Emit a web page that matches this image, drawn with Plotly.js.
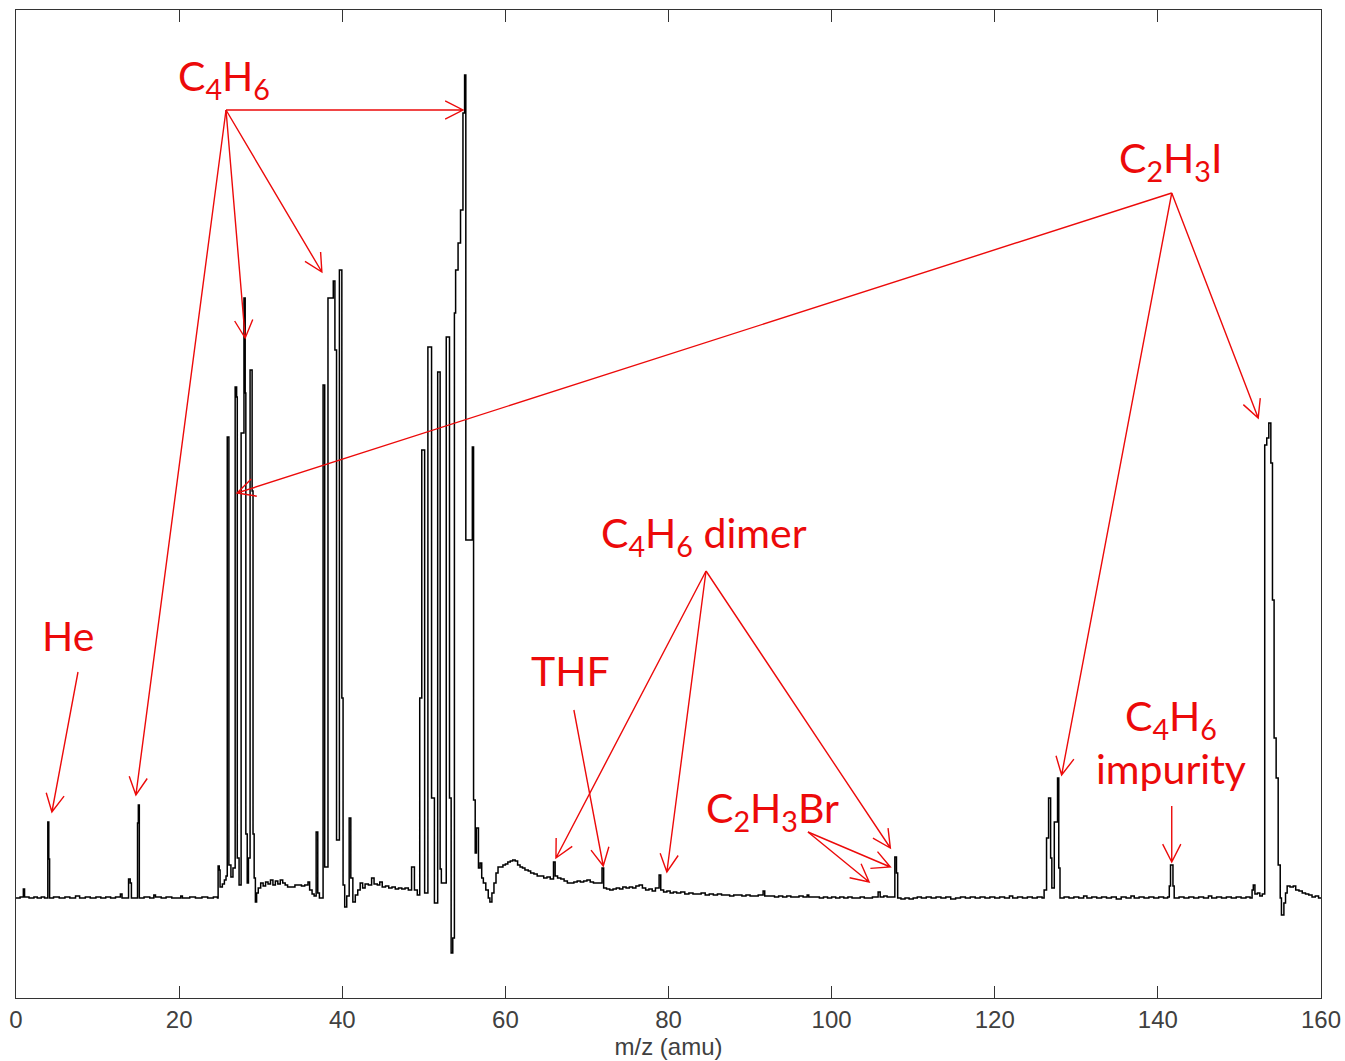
<!DOCTYPE html>
<html>
<head>
<meta charset="utf-8">
<script src="https://cdn.plot.ly/plotly-3.0.1.min.js"></script>
<style>
  html, body { margin: 0; padding: 0; background: #ffffff; }
  #chart { width: 1345px; height: 1061px; }
</style>
</head>
<body>
<div id="chart"></div>
<script>
// Mass spectrum trace, ion signal in arbitrary units (baseline = 0).
// Each point gives the signal level starting at that m/z (step trace).

// m/z 0 - 24.7 : He, CH3 fragments
const mzLow = [0, 0.5, 0.9, 1.05, 1.6, 2.2, 2.6, 3.1, 3.5, 3.9, 4.02, 4.12, 4.6, 5.3, 6.0, 6.6, 7.3, 7.8,
  8.5, 9.1, 9.8, 10.4, 11.0, 11.6, 12.2, 12.8, 13.0, 13.8, 14.0, 14.15, 14.9, 15.0, 15.12, 15.7, 16.4,
  16.9, 17.1, 17.8, 18.4, 19.1, 20.2, 20.4, 21.3, 22.0, 22.8, 23.5, 24.2, 24.7];
const sigLow = [0, 1, 9, 1, 0, 1, 0, 1, 0, 76, 39, 0, 1, 0, 1, 0, 2, 0,
  1, 0, 1, 0, 1, 0, 1, 4, 0, 19, 15, 0, 75, 93, 0, 1, 0,
  3, 1, 0, 1, 0, 2, 0, 1, 0, 1, 0, 1, 0];

// m/z 24.8 - 42.8 : C2 and C3 fragment groups
const mzC2C3 = [24.78, 24.92, 25.02, 25.3, 25.55, 25.75, 25.9, 26.1, 26.35, 26.6, 26.87, 27.05, 27.13,
  27.35, 27.6, 27.95, 28.1, 28.18, 28.35, 28.5, 28.7, 28.95, 29.06, 29.2, 29.35, 29.5, 29.7, 30.0,
  30.3, 30.6, 30.9, 31.2, 31.5, 31.8, 32.1, 32.4, 32.7, 33.0, 33.3, 33.7, 34.2, 34.6, 35.0, 35.4,
  35.8, 36.0, 36.3, 36.55, 36.8, 37.0, 37.2, 37.65, 37.85, 38.25, 38.5, 38.9, 39.1, 39.3, 39.65,
  39.95, 40.1, 40.3, 40.55, 40.85, 41.05, 41.3, 41.6, 41.9, 42.2, 42.5, 42.8];
const sigC2C3 = [32, 28, 11, 14, 18, 22, 461, 33, 21, 30, 511, 501, 40,
  13, 465, 600, 505, 64, 15, 40, 528, 407, 64, 20, -4, 5, 10, 15,
  12, 16, 14, 18, 13, 17, 14, 18, 15, 13, 11, 11, 13, 13, 12, 13,
  16, 8, 4, 2, 66, 5, 0, 513, 31, 600, 600, 617, 548, 58, 628,
  200, 13, -9, 2, 80, 20, -4, 3, 8, 15, 10, 14];

// m/z 43.2 - 62.1 : C4 fragment group and parent C4H6
const mzC4 = [43.2, 43.6, 43.9, 44.3, 44.6, 44.9, 45.3, 45.7, 46.1, 46.5, 46.9, 47.3, 47.7, 48.1,
  48.5, 48.85, 49.2, 49.5, 49.75, 50.1, 50.5, 50.95, 51.3, 51.7, 52.0, 52.15, 52.75, 53.15, 53.35,
  53.55, 53.75, 53.9, 54.2, 54.5, 54.8, 55.0, 55.15, 55.95, 56.1, 56.3, 56.45, 56.7, 56.9, 57.1,
  57.3, 57.6, 57.9, 58.1, 58.35, 58.6, 58.85, 59.1, 59.4, 59.7, 60.0, 60.3, 60.6, 60.9, 61.2,
  61.5, 61.8, 62.1];
const sigC4 = [13, 20, 14, 13, 16, 11, 12, 10, 11, 9, 10, 9, 10, 8,
  31, 8, 3, 200, 448, 5, 551, 100, -5, 526, 29, 15, 561, 100, -55,
  -40, 585, 628, 655, 688, 785, 823, 358, 451, 98, 45, 70, 30, 35, 20,
  15, 8, 0, -4, 5, 15, 25, 31, 31, 33, 34, 36, 37, 38, 37,
  33, 31, 30];

// m/z 62.4 - 110 : THF, dimer and C2H3Br region
const mzMid = [62.4, 62.8, 63.1, 63.5, 63.9, 64.3, 64.7, 65.1, 65.5, 65.9, 66.1, 66.4, 66.8, 67.2,
  67.6, 68.0, 68.4, 68.8, 69.2, 69.6, 70.0, 70.4, 70.8, 71.2, 71.6, 71.85, 72.05, 72.4, 72.8, 73.2,
  73.6, 74.0, 74.4, 74.8, 75.2, 75.6, 76.0, 76.4, 76.8, 77.2, 77.6, 78.0, 78.4, 78.85, 79.05, 79.4,
  79.8, 80.2, 80.6, 81.0, 81.5, 82.0, 82.5, 83.0, 83.5, 84.0, 84.5, 85.0, 85.5, 86.0, 86.5, 87.0,
  87.5, 88.0, 88.5, 89.0, 89.5, 90.0, 90.5, 91.0, 91.6, 91.8, 92.5, 93.0, 93.5, 94.0, 94.5, 95.0,
  95.5, 96.0, 96.5, 97.0, 97.2, 98.0, 98.5, 99.0, 99.5, 100.0, 100.5, 101.0, 101.5, 102.0, 102.5,
  103.0, 103.5, 104.0, 104.5, 105.0, 105.7, 105.95, 106.4, 106.8, 107.3, 107.75, 107.95, 108.1,
  108.5, 109.0, 109.5, 110.0];
const sigMid = [28, 27, 25, 24, 22, 22, 20, 21, 19, 36, 22, 20, 19, 17,
  15, 15, 16, 17, 16, 17, 18, 16, 15, 15, 15, 30, 10, 9, 8, 9,
  10, 9, 11, 10, 11, 10, 12, 13, 10, 8, 9, 7, 10, 23, 8, 6,
  7, 5, 6, 5, 6, 4, 5, 4, 4, 5, 3, 4, 3, 4, 3, 3,
  2, 3, 3, 2, 3, 2, 2, 3, 7, 2, 2, 1, 2, 1, 2, 1,
  1, 2, 1, 3, 1, 1, 0, 1, 0, 1, 0, 1, 0, 1, 0,
  0, 1, 0, 0, 1, 6, 1, 2, 1, 1, 41, 25, 0,
  -1, 0, -1, 0];

// m/z 110.5 - 160 : C2H3I and its fragments
const mzHigh = [110.5, 111.0, 111.6, 112.2, 112.8, 113.4, 114.0, 114.6, 115.2, 115.8, 116.4, 117.0,
  117.6, 118.2, 118.8, 119.4, 120.0, 120.6, 121.2, 121.8, 122.2, 122.8, 123.4, 124.0, 124.6, 125.2,
  125.8, 126.05, 126.35, 126.6, 126.85, 127.0, 127.3, 127.7, 127.85, 128.0, 128.5, 129.1, 129.7,
  130.3, 130.9, 131.3, 131.9, 132.5, 133.1, 133.7, 134.3, 134.9, 135.5, 136.1, 136.7, 137.1, 137.7,
  138.3, 138.9, 139.5, 140.1, 140.7, 141.2, 141.4, 141.55, 141.85, 142.0, 142.6, 143.2, 143.8,
  144.4, 145.0, 145.6, 146.2, 146.6, 147.2, 147.8, 148.4, 149.0, 149.6, 150.2, 150.8, 151.3,
  151.55, 151.7, 151.9, 152.2, 152.5, 152.8, 153.1, 153.35, 153.6, 153.85, 154.05, 154.25, 154.5,
  154.75, 155.0, 155.15, 155.45, 155.65, 155.85, 156.2, 156.6, 156.9, 157.3, 157.7, 158.1, 158.5,
  158.9, 159.3, 159.7, 160.0];
const sigHigh = [1, 0, 1, 0, 1, 0, 1, -1, 0, 1, 0, 1,
  0, 1, 0, 1, 0, 1, 0, 2, 0, 1, 0, 1, 0, 1,
  0, 8, 60, 100, 40, 10, 76, 120, 30, 0, 1, 0, 1,
  0, 2, 0, 1, 0, 1, 0, 1, -1, 1, 0, 2, 0, 1,
  0, 1, 0, 1, 0, 1, 12, 33, 12, 0, 1, 0, 1,
  0, 1, 0, 2, 0, 1, 0, 1, 0, 1, 0, 1, 0,
  8, 13, 4, 5, 2, 4, 453, 460, 475, 435, 298, 160, 120,
  33, 0, -17, -5, 5, 12, 11, 12, 8, 7, 5, 4, 3,
  1, 2, 0, 0];

const xTicks = [0, 20, 40, 60, 80, 100, 120, 140, 160];
const xRange = [0, 160];
const yRange = [-100, 888];

// Labels: [text, m/z, signal]
const labelText = ['C<sub>4</sub>H<sub>6</sub>', 'C<sub>2</sub>H<sub>3</sub>I', 'He', 'THF',
  'C<sub>4</sub>H<sub>6</sub> dimer', 'C<sub>2</sub>H<sub>3</sub>Br', 'C<sub>4</sub>H<sub>6</sub><br>impurity'];
const labelMz = [25.5, 141.5, 6.4, 68.0, 84.35, 92.7, 141.6];
const labelSig = [820, 738, 263, 228, 363, 88, 156];

// Arrows: tail (m/z, signal) -> head (m/z, signal)
const arrowTailMz = [25.75, 25.75, 25.75, 25.75, 141.7, 141.7, 141.7, 7.6, 68.4, 84.6, 84.6, 84.6, 97.1, 97.1, 141.7];
const arrowTailSig = [788, 788, 788, 788, 705, 705, 705, 226, 188, 327, 327, 327, 66, 66, 92];
const arrowHeadMz = [54.8, 14.7, 28.1, 37.5, 27.1, 128.2, 152.3, 4.4, 72.0, 66.2, 79.8, 107.2, 104.6, 107.2, 141.7];
const arrowHeadSig = [788, 103, 560, 626, 405, 123, 480, 86, 32, 40, 26, 50, 16, 31, 36];

const margin = {l: 16, r: 24, t: 10, b: 63};
const figW = 1345, figH = 1061;
const plotW = figW - margin.l - margin.r;
const plotH = figH - margin.t - margin.b;
const kx = plotW / (xRange[1] - xRange[0]);
const ky = plotH / (yRange[1] - yRange[0]);

const mz = [].concat(mzLow, mzC2C3, mzC4, mzMid, mzHigh);
const signal = [].concat(sigLow, sigC2C3, sigC4, sigMid, sigHigh);

const red = '#ec0a0a';

// Open V arrowheads built in pixel space, converted back to data units
const headLen = 20, headAng = 27 * Math.PI / 180;
const shapes = arrowTailMz.map((x0, i) => {
  const y0 = arrowTailSig[i], x1 = arrowHeadMz[i], y1 = arrowHeadSig[i];
  const dx = (x1 - x0) * kx, dy = (y1 - y0) * ky;
  const len = Math.hypot(dx, dy);
  const ux = dx / len, uy = dy / len;
  const side = s => {
    const c = Math.cos(headAng), sn = Math.sin(headAng) * s;
    const rx = ux * c - uy * sn, ry = ux * sn + uy * c;
    return [x1 - headLen * rx / kx, y1 - headLen * ry / ky];
  };
  const a = side(1), b = side(-1);
  return {
    type: 'path', xref: 'x', yref: 'y',
    path: `M${x0},${y0}L${x1},${y1}M${a[0]},${a[1]}L${x1},${y1}L${b[0]},${b[1]}`,
    line: {color: red, width: 1.4}
  };
});

const annotations = labelText.map((t, i) => ({
  text: t, x: labelMz[i], y: labelSig[i], xref: 'x', yref: 'y',
  showarrow: false, xanchor: 'center', yanchor: 'middle', align: 'center',
  font: {family: 'Lato, "Open Sans", sans-serif', size: 41, color: red}
}));

const trace = {
  type: 'scatter', mode: 'lines', x: mz, y: signal,
  line: {color: '#000000', width: 1.5, shape: 'hv'},
  hoverinfo: 'x+y'
};

const axisFont = {family: '"Liberation Sans", Arial, sans-serif', size: 24, color: '#404040'};

const layout = {
  width: figW, height: figH, margin: margin,
  paper_bgcolor: '#ffffff', plot_bgcolor: '#ffffff',
  showlegend: false,
  xaxis: {
    range: xRange, tickvals: xTicks, ticktext: xTicks.map(String),
    ticks: 'inside', ticklen: 12, tickwidth: 1.2, tickcolor: '#333333',
    showline: true, linecolor: '#333333', linewidth: 1.3, mirror: 'ticks',
    showgrid: false, zeroline: false, tickfont: axisFont,
    title: {text: 'm/z (amu)', font: axisFont, standoff: 6},
    automargin: false
  },
  yaxis: {
    range: yRange, showticklabels: false, ticks: '',
    showline: true, linecolor: '#333333', linewidth: 1.3, mirror: true,
    showgrid: false, zeroline: false, automargin: false
  },
  shapes: shapes,
  annotations: annotations
};

Plotly.newPlot('chart', [trace], layout, {displayModeBar: false, staticPlot: true});
</script>
</body>
</html>
